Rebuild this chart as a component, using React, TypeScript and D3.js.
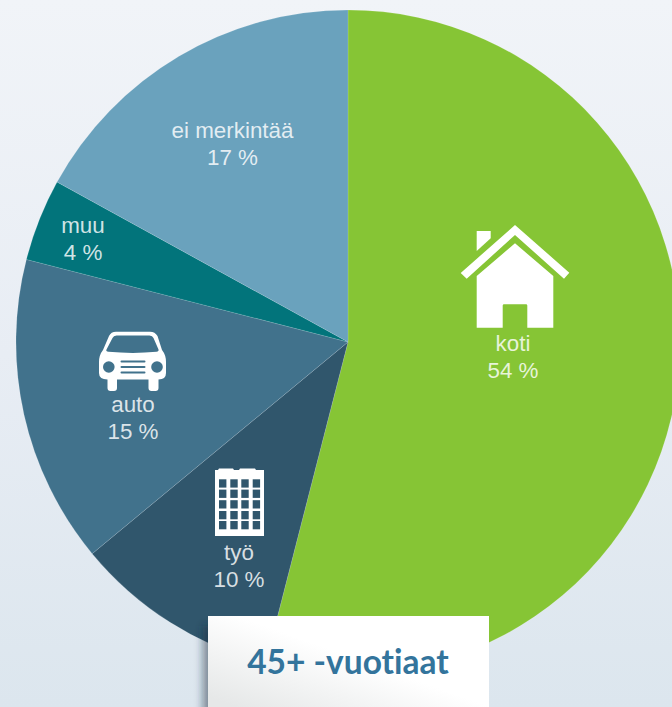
import React from "react";
import * as d3 from "d3";

const categories = ["koti", "työ", "auto", "muu", "ei merkintää"];
const values = [54, 10, 15, 4, 17];
const colors = ["#86c535", "#30566c", "#41728c", "#02747b", "#6aa2bd"];
const title = "45+ -vuotiaat";

const width = 672;
const height = 707;
const cx = 348;
const cy = 342;
const radius = 332;

// label centres are hand placed, they do not follow the centroid in the original
const labelX = [513, 239, 133, 83, 232.5];
const labelY = [351, 560, 412, 233, 138];

const pie = d3.pie<number>().value(d => d).sort(null);
const arc = d3.arc<d3.PieArcDatum<number>>().innerRadius(0).outerRadius(radius);

const House = () => (
    <g fill="#fff">
        <path d="M476.7 231H490.7V238.3L476.7 251Z" />
        <path d="M515 225L569.3 272.7L564 278.7L515 235L466.7 278.7L460.7 273Z" />
        <path d="M515 243.3L553.3 276V327.7H527.3V305.5Q527.3 304.3 526 304.3H504Q502.7 304.3 502.7 305.5V327.7H476.7V276Z" />
    </g>
);

const Car = () => (
    <g>
        <path
            fill="#fff"
            d="M116 331.7H150Q155 331.7 157.5 336L162 350Q166 355 166 362V373Q166 379.5 158.5 379.5V388Q158.5 391 155.5 391H151.5Q148.5 391 148.5 388V379.5H117V388Q117 391 114 391H110.5Q107.5 391 107.5 388V379.5Q99 379.5 99 373V362Q99 355 103 350L109 336Q111 331.7 116 331.7Z"
        />
        <path
            fill="#41728c"
            d="M116.5 335.5H149.5Q152.5 335.5 153.5 338L158.5 349.5Q159 351.5 156.5 351.8Q133 354 108.5 351.8Q105.5 351.5 106.5 349.5L112.5 338Q113.5 335.5 116.5 335.5Z"
        />
        <circle cx={108.8} cy={367} r={5.8} fill="#41728c" />
        <circle cx={157} cy={367} r={5.8} fill="#41728c" />
        <rect x={120.5} y={360.5} width={25} height={2} rx={1} fill="#41728c" />
        <rect x={120.5} y={366} width={25} height={2} rx={1} fill="#41728c" />
        <rect x={120.5} y={371.5} width={25} height={2} rx={1} fill="#41728c" />
    </g>
);

const windowCols = [219, 230.3, 241.3, 252.7];
const windowRows = [479.3, 489.6, 500.2, 511, 521];

const Building = () => (
    <g>
        <path
            fill="#fff"
            d="M215 470H218L219 468.5H233L234 470H239L240 468.5H255L256 470H264V536H215Z"
        />
        {windowRows.map(y =>
            windowCols.map(x => (
                <rect key={`${x}-${y}`} x={x} y={y} width={7.4} height={8.3} fill="#30566c" />
            ))
        )}
    </g>
);

const App = () => {
    const slices = pie(values);
    return (
        <svg
            width={width}
            height={height}
            viewBox={`0 0 ${width} ${height}`}
            style={{ position: "absolute", left: 0, top: 0, display: "block" }}
        >
            <defs>
                <linearGradient id="bg" x1="0" y1="0" x2="0" y2="1">
                    <stop offset="0" stopColor="#f1f4f8" />
                    <stop offset="0.5" stopColor="#e8edf4" />
                    <stop offset="1" stopColor="#dce6ee" />
                </linearGradient>
                <linearGradient id="box" x1="0.6" y1="0.55" x2="0.1" y2="1">
                    <stop offset="0" stopColor="#ffffff" />
                    <stop offset="1" stopColor="#e6e8e8" />
                </linearGradient>
                <filter id="shadow" x="-40%" y="-20%" width="180%" height="140%">
                    <feGaussianBlur stdDeviation="4" />
                </filter>
            </defs>
            <rect width={width} height={height} fill="url(#bg)" />
            <g transform={`translate(${cx},${cy})`}>
                {slices.map((s, i) => (
                    <path
                        key={categories[i]}
                        d={arc(s) || ""}
                        fill={colors[i]}
                        stroke="#ffffff"
                        strokeOpacity={0.25}
                        strokeWidth={0.5}
                    />
                ))}
            </g>
            <House />
            <Car />
            <Building />
            {categories.map((c, i) => (
                <text
                    key={c}
                    textAnchor="middle"
                    fontFamily="'Liberation Sans', Arial, sans-serif"
                    fontSize={22.4}
                    fill="#ffffff"
                    fillOpacity={0.82}
                >
                    <tspan x={labelX[i]} y={labelY[i]}>{c}</tspan>
                    <tspan x={labelX[i]} y={labelY[i] + 26.5}>{`${values[i]} %`}</tspan>
                </text>
            ))}
            <rect x={203} y={626} width={30} height={90} fill="#1c2c3c" fillOpacity={0.5} filter="url(#shadow)" />
            <rect x={208} y={616} width={281} height={91} fill="url(#box)" />
            <text
                x={348}
                y={674}
                textAnchor="middle"
                fontFamily="Lato, sans-serif"
                fontWeight={700}
                fontSize={33.5}
                fill="#33749c"
                style={{ fontVariantLigatures: "none" }}
            >
                {title}
            </text>
        </svg>
    );
};

export default App;
